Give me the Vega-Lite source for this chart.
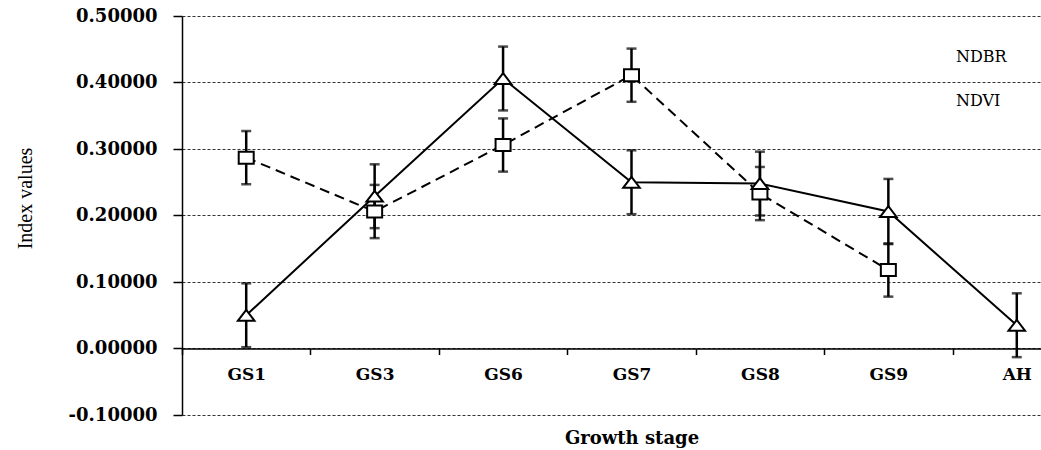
{
  "$schema": "https://vega.github.io/schema/vega-lite/v6.json",
  "width": 859,
  "height": 399,
  "autosize": "none",
  "padding": {"left": 182, "top": 16, "right": 0, "bottom": 35},
  "background": "white",
  "config": {"view": {"stroke": null}, "font": "DejaVu Serif"},
  "data": {
    "values": [
      {"stage": "GS1", "series": "NDBR", "value": 0.287, "err": 0.040},
      {"stage": "GS3", "series": "NDBR", "value": 0.206, "err": 0.040},
      {"stage": "GS6", "series": "NDBR", "value": 0.306, "err": 0.040},
      {"stage": "GS7", "series": "NDBR", "value": 0.411, "err": 0.040},
      {"stage": "GS8", "series": "NDBR", "value": 0.233, "err": 0.040},
      {"stage": "GS9", "series": "NDBR", "value": 0.118, "err": 0.040},
      {"stage": "GS1", "series": "NDVI", "value": 0.050, "err": 0.048},
      {"stage": "GS3", "series": "NDVI", "value": 0.229, "err": 0.048},
      {"stage": "GS6", "series": "NDVI", "value": 0.406, "err": 0.048},
      {"stage": "GS7", "series": "NDVI", "value": 0.250, "err": 0.048},
      {"stage": "GS8", "series": "NDVI", "value": 0.248, "err": 0.048},
      {"stage": "GS9", "series": "NDVI", "value": 0.206, "err": 0.049},
      {"stage": "AH", "series": "NDVI", "value": 0.035, "err": 0.048}
    ]
  },
  "encoding": {
    "x": {
      "field": "stage",
      "type": "nominal",
      "sort": ["GS1", "GS3", "GS6", "GS7", "GS8", "GS9", "AH"],
      "scale": {"type": "band", "range": [0, 899], "paddingInner": 0, "paddingOuter": 0},
      "axis": {
        "title": "Growth stage",
        "offset": -66.5,
        "tickBand": "extent",
        "labelAngle": 0,
        "grid": false,
        "domainColor": "black",
        "domainWidth": 1.5,
        "tickColor": "black",
        "tickSize": 6,
        "tickWidth": 1.5,
        "labelPadding": 12,
        "labelFont": "DejaVu Serif",
        "labelFontWeight": "bold",
        "labelFontSize": 17,
        "labelColor": "black",
        "titleFont": "DejaVu Serif",
        "titleFontWeight": "bold",
        "titleFontSize": 18,
        "titleColor": "black",
        "titleY": 95,
        "titleBaseline": "alphabetic"
      }
    },
    "y": {
      "field": "value",
      "type": "quantitative",
      "scale": {"domain": [-0.1, 0.5], "nice": false, "zero": false},
      "axis": {
        "title": "Index values",
        "values": [-0.1, 0, 0.1, 0.2, 0.3, 0.4, 0.5],
        "labelExpr": "datum.value < 0 ? '-' + format(-datum.value, '.5f') : format(datum.value, '.5f')",
        "grid": true,
        "gridDash": [3, 2],
        "gridColor": "#333333",
        "gridWidth": 1,
        "domainColor": "black",
        "domainWidth": 1.5,
        "tickColor": "black",
        "tickSize": 9,
        "tickWidth": 1.5,
        "labelPadding": 16,
        "labelFont": "DejaVu Serif",
        "labelFontWeight": "bold",
        "labelFontSize": 18,
        "labelColor": "black",
        "titleFont": "Liberation Serif",
        "titleFontSize": 20,
        "titleFontWeight": "normal",
        "titleColor": "black",
        "titleX": -151,
        "titleY": 182,
        "titleBaseline": "alphabetic"
      }
    }
  },
  "layer": [
    {
      "mark": {
        "type": "errorbar",
        "color": "black",
        "rule": {"strokeWidth": 2.5, "color": "black"},
        "ticks": {"size": 10, "thickness": 2.5, "color": "black"}
      },
      "encoding": {
        "yError": {"field": "err"},
        "detail": {"field": "series", "type": "nominal"}
      }
    },
    {
      "transform": [{"filter": "datum.series === 'NDBR'"}],
      "mark": {"type": "line", "color": "black", "strokeWidth": 2, "strokeDash": [10, 6]}
    },
    {
      "transform": [{"filter": "datum.series === 'NDVI'"}],
      "mark": {"type": "line", "color": "black", "strokeWidth": 2}
    },
    {
      "mark": {"type": "point", "filled": false, "color": "black", "fill": "white", "fillOpacity": 1, "stroke": "black", "strokeWidth": 2, "opacity": 1, "size": 225},
      "encoding": {
        "shape": {
          "field": "series",
          "type": "nominal",
          "scale": {
            "domain": ["NDBR", "NDVI"],
            "range": ["M-1,-0.8H1V0.8H-1Z", "M-1.1,0.72L0,-0.72L1.1,0.72Z"]
          },
          "legend": {
            "title": null,
            "orient": "none",
            "legendX": 689,
            "legendY": 30,
            "padding": 0,
            "symbolSize": 400,
            "symbolStrokeWidth": 1.5,
            "symbolStrokeColor": "black",
            "symbolFillColor": "black",
            "symbolOffset": 27.5,
            "labelFont": "DejaVu Serif",
            "labelFontSize": 16,
            "labelColor": "black",
            "labelOffset": 35.5,
            "rowPadding": 22,
            "encode": {
              "symbols": {
                "shape": {
                  "condition": {"test": "datum.value === 'NDBR'", "value": "M-3.75,-0.075H-2.75V0.075H-3.75ZM-1.75,-0.075H-0.65V0.075H-1.75ZM-0.65,-0.43H1.15V0.43H-0.65ZM-0.5,-0.28V0.28H1V-0.28ZM1.15,-0.075H1.35V0.075H1.15ZM2.25,-0.075H3.25V0.075H2.25Z"},
                  "value": "M-3.75,-0.075H-0.214V0.075H-3.75ZM0.614,-0.075H3.75V0.075H0.614ZM-0.65,0.6L0.2,-0.57L1.05,0.6ZM-0.39,0.48L0.79,0.48L0.2,-0.33Z"
                },
                "fill": {"value": "black"},
                "fillOpacity": {"value": 1},
                "stroke": {"value": "black"},
                "strokeOpacity": {"value": 1},
                "strokeWidth": {"value": 0.3},
                "opacity": {"value": 1}
              }
            }
          }
        }
      }
    }
  ]
}
